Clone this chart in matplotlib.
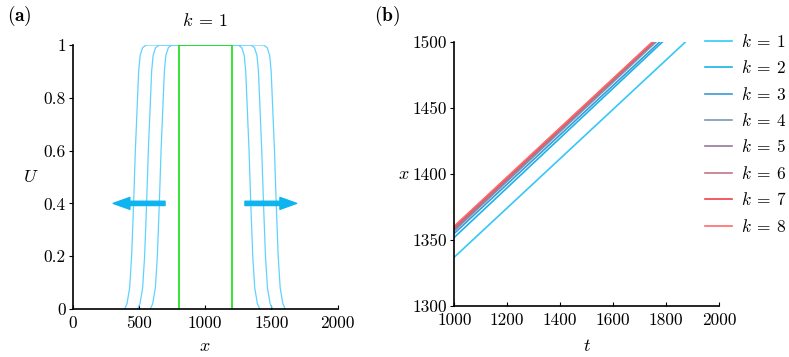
import numpy as np
import matplotlib
matplotlib.use("Agg")
import matplotlib.pyplot as plt

plt.rcParams['font.family'] = 'cmr10'
plt.rcParams['mathtext.fontset'] = 'cm'
plt.rcParams['axes.formatter.use_mathtext'] = True

# (a) front profile: U vs offset from the U=0.4 point
front_U = [0.0, 0.02, 0.08, 0.2, 0.4, 0.6, 0.78, 0.9, 0.96, 0.99, 1.0]
front_dx = [-68, -50, -30, -15, 0, 13, 28, 38, 49, 68, 96]
left_pos = [460, 558, 654]
right_pos = [1536, 1440, 1344]
step_x = [800, 800, 1200, 1200]
step_U = [0, 1, 1, 0]

# (b) trajectories x(t): value at t=1000 and time where x hits 1500
k_vals = [1, 2, 3, 4, 5, 6, 7, 8]
x_start = [1337, 1352, 1355, 1357, 1358, 1359, 1360, 1360.5]
t_end = [1873, 1786, 1776, 1762, 1755, 1752, 1750, 1748]
k_colors = ['#35c8f7', '#1ab3ec', '#3a9bd6', '#7b96b6', '#957a98',
            '#c27689', '#ee3f4d', '#ff6b6b']

fig = plt.figure(figsize=(7.89, 3.57), dpi=100)
ax1 = fig.add_axes([0.0921, 0.1345, 0.3359, 0.7395])
ax2 = fig.add_axes([0.5758, 0.1429, 0.3355, 0.7395])

fdx = np.array(front_dx)
for L, R in zip(left_pos, right_pos):
    xs = np.concatenate([L + fdx, (R - fdx)[::-1]])
    us = np.concatenate([front_U, front_U[::-1]])
    ax1.plot(xs, us, color='#5fd3ff', lw=0.9)
ax1.plot(step_x, step_U, color='#11e011', lw=1.2)

arrow_kw = dict(width=3.1, headwidth=8.6, headlength=12, shrink=0, color='#0db4ef')
ax1.annotate('', xy=(306, 0.4), xytext=(697, 0.4), arrowprops=arrow_kw)
ax1.annotate('', xy=(1690, 0.4), xytext=(1300, 0.4), arrowprops=arrow_kw)

ax1.set_xlim(0, 2000)
ax1.set_ylim(0, 1)
ax1.set_xticks([0, 500, 1000, 1500, 2000])
ax1.set_xticklabels(['0', '500', '1000', '1500', '2000'])
ax1.set_yticks([0, 0.2, 0.4, 0.6, 0.8, 1])
ax1.set_yticklabels(['0', '0.2', '0.4', '0.6', '0.8', '1'])
ax1.set_xlabel('$x$', fontsize=13, labelpad=5)
ax1.set_ylabel('$U$', fontsize=13, rotation=0, va='center', ha='center')
ax1.yaxis.set_label_coords(-0.158, 0.5)
ax1.set_title(r'$k\:=\:1$', fontsize=13, pad=14)

for i in range(len(k_vals)):
    ax2.plot([1000, t_end[i]], [x_start[i], 1500], color=k_colors[i], lw=1.2,
             label=rf'$k\:=\:{k_vals[i]}$')
ax2.set_xlim(1000, 2000)
ax2.set_ylim(1300, 1500)
ax2.set_xticks([1000, 1200, 1400, 1600, 1800, 2000])
ax2.set_xticklabels(['1000', '1200', '1400', '1600', '1800', '2000'])
ax2.set_yticks([1300, 1350, 1400, 1450, 1500])
ax2.set_yticklabels(['1300', '1350', '1400', '1450', '1500'])
ax2.set_xlabel('$t$', fontsize=13, labelpad=7)
ax2.set_ylabel('$x$', fontsize=13, rotation=0, va='center', ha='center')
ax2.yaxis.set_label_coords(-0.192, 0.5)
ax2.legend(loc='upper left', bbox_to_anchor=(705 / 789, 1 - 33 / 357),
           bbox_transform=fig.transFigure, borderaxespad=0, borderpad=0,
           frameon=False, fontsize=12.5, handlelength=1.55,
           labelspacing=0.54, handletextpad=0.5)

for ax in (ax1, ax2):
    for s in ('top', 'right'):
        ax.spines[s].set_visible(False)
    ax.spines['left'].set_linewidth(1.2)
    ax.spines['bottom'].set_linewidth(1.2)
    ax.tick_params(axis='x', direction='in', length=3, labelsize=12.5, pad=5)
    ax.tick_params(axis='y', direction='out', length=3, labelsize=12.5, pad=2)

fig.text(0.009, 0.955, r'$\mathbf{(a)}$', fontsize=14, va='center')
fig.text(0.474, 0.955, r'$\mathbf{(b)}$', fontsize=14, va='center')

fig.savefig('out.png', dpi=100)
